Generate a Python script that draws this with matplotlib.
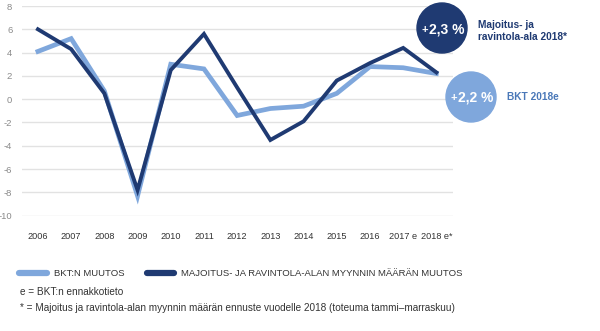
import matplotlib
matplotlib.use('Agg')
import matplotlib.pyplot as plt
from matplotlib.patches import Circle
from matplotlib.lines import Line2D
from matplotlib.transforms import IdentityTransform
import matplotlib.font_manager as fm

years = ['2006', '2007', '2008', '2009', '2010', '2011', '2012', '2013',
         '2014', '2015', '2016', '2017 e', '2018 e*']
bkt = [4.1, 5.2, 0.7, -8.3, 3.0, 2.6, -1.4, -0.8, -0.6, 0.5, 2.8, 2.7, 2.2]
majoitus = [6.0, 4.3, 0.5, -7.8, 2.5, 5.6, 1.0, -3.5, -1.9, 1.6, 3.1, 4.4, 2.3]
yticks = [8, 6, 4, 2, 0, -2, -4, -6, -8, -10]

LIGHT = '#7fa7dc'
DARK = '#1f3a72'
GREY = '#8a8a8a'
TXT = '#333333'

names = {f.name for f in fm.fontManager.ttflist}
FONT = 'Liberation Sans Narrow' if 'Liberation Sans Narrow' in names else 'Liberation Sans'
plt.rcParams['font.family'] = [FONT, 'DejaVu Sans']

fig = plt.figure(figsize=(6, 3.31), dpi=100)
W, H = 600, 331
ax = fig.add_axes([22 / W, 1 - 215.7 / H, (453 - 22) / W, (215.7 - 6) / H])

x = list(range(len(years)))
ax.plot(x, bkt, color=LIGHT, lw=3.4, solid_joinstyle='miter', zorder=3, clip_on=False)
ax.plot(x, majoitus, color=DARK, lw=2.8, solid_joinstyle='miter', zorder=4, clip_on=False)

ax.set_xlim(-0.48, 12.5)
ax.set_ylim(-10, 8)
ax.set_yticks(yticks)
ax.set_yticklabels([str(v) for v in yticks], fontsize=6.8, color=GREY)
ax.set_xticks(x)
ax.set_xticklabels(years, fontsize=6.6, color=TXT)
ax.tick_params(axis='y', length=0, pad=7)
ax.tick_params(axis='x', length=0, pad=12)
ax.grid(axis='y', color='#e2e2e2', lw=1)
ax.set_axisbelow(True)
for s in ax.spines.values():
    s.set_visible(False)

# highlight circles
pix = IdentityTransform()
fig.add_artist(Circle((442, H - 28), 25, transform=pix, color=DARK, zorder=5))
fig.add_artist(Circle((471, H - 97), 25, transform=pix, color=LIGHT, zorder=5))
fig.text(425 / W, 1 - 30 / H, '+', color='white', fontsize=8, fontweight='bold',
         ha='center', va='center', zorder=6)
fig.text(447 / W, 1 - 29 / H, '2,3 %', color='white', fontsize=10, fontweight='bold',
         ha='center', va='center', zorder=6)
fig.text(454 / W, 1 - 98 / H, '+', color='white', fontsize=8, fontweight='bold',
         ha='center', va='center', zorder=6)
fig.text(476 / W, 1 - 97 / H, '2,2 %', color='white', fontsize=10, fontweight='bold',
         ha='center', va='center', zorder=6)
fig.text(478 / W, 1 - 31 / H, 'Majoitus- ja\nravintola-ala 2018*', color=DARK, fontsize=7.3,
         fontweight='bold', ha='left', va='center', linespacing=1.25)
fig.text(507 / W, 1 - 97 / H, 'BKT 2018e', color='#4a78b8', fontsize=7.3,
         fontweight='bold', ha='left', va='center')

# legend
fig.add_artist(Line2D([19 / W, 47 / W], [1 - 273 / H, 1 - 273 / H], color=LIGHT, lw=4.5,
                      solid_capstyle='round'))
fig.text(54 / W, 1 - 273 / H, 'BKT:N MUUTOS', fontsize=6.8, color=TXT, va='center')
fig.add_artist(Line2D([147 / W, 174 / W], [1 - 273 / H, 1 - 273 / H], color=DARK, lw=4.5,
                      solid_capstyle='round'))
fig.text(181 / W, 1 - 273 / H, 'MAJOITUS- JA RAVINTOLA-ALAN MYYNNIN MÄÄRÄN MUUTOS',
         fontsize=6.8, color=TXT, va='center')

fig.text(20 / W, 1 - 292 / H, 'e = BKT:n ennakkotieto', fontsize=7.2, color=TXT, va='center')
fig.text(20 / W, 1 - 308 / H,
         '* = Majoitus ja ravintola-alan myynnin määrän ennuste vuodelle 2018 (toteuma tammi–marraskuu)',
         fontsize=7.2, color=TXT, va='center')

fig.savefig('out.png', dpi=100)
